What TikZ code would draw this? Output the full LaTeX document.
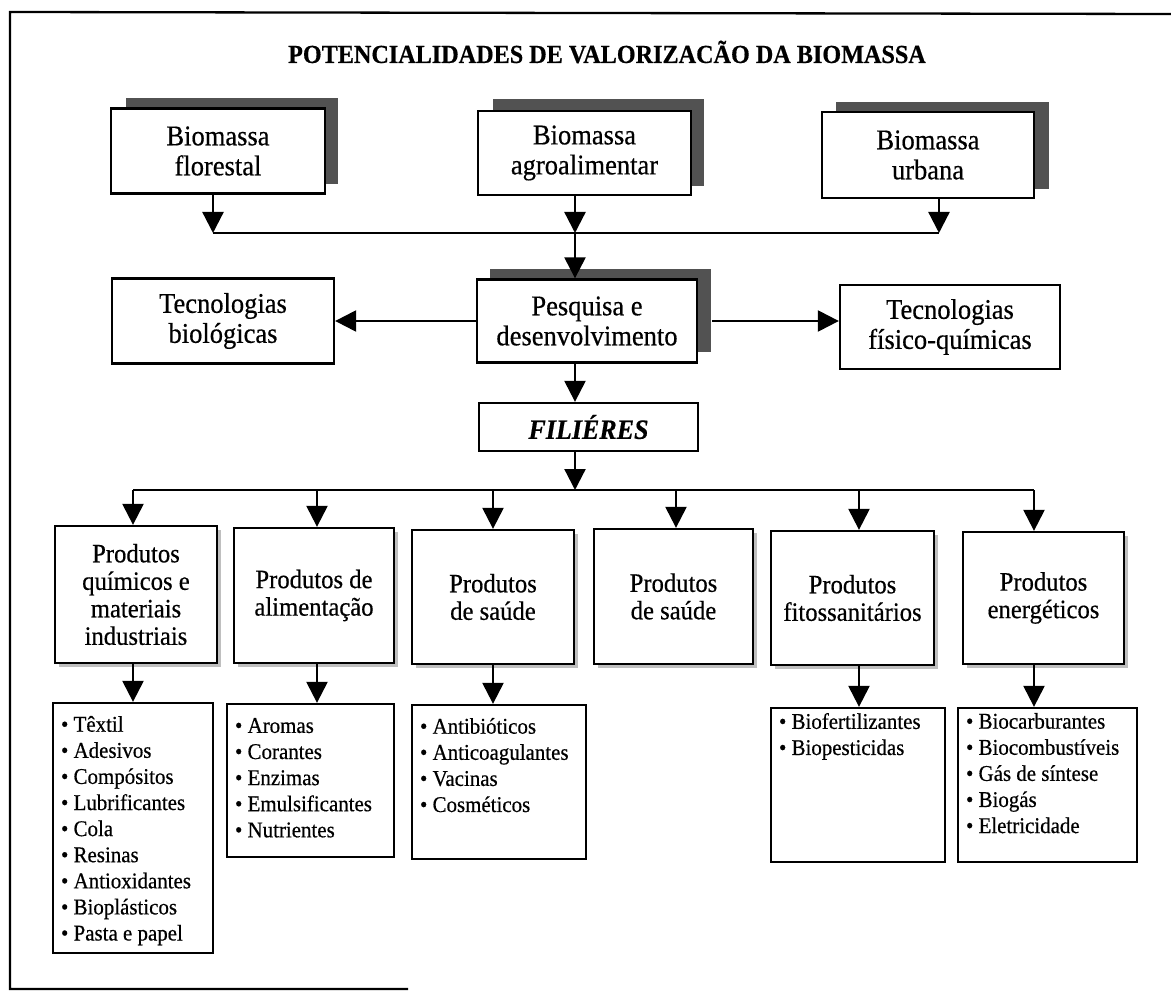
\documentclass[tikz,border=0pt]{standalone}
\usepackage{fontspec}
\setmainfont{Liberation Serif}[FakeStretch=0.93,FakeBold=0.5]
\usetikzlibrary{arrows.meta,calc}

\begin{document}
\begin{tikzpicture}[x=1pt,y=-1pt,
  box/.style={draw=black, line width=2.3pt, fill=white, align=center, inner sep=0pt},
  sz/.style 2 args={minimum width=#1pt, minimum height=#2pt},
  bigtxt/.style={font=\fontsize{28.5}{30}\selectfont},
  prodtxt/.style={font=\fontsize{26.5}{27.5}\selectfont},
  listtxt/.style={font=\fontsize{22.5}{26.1}\selectfont, align=left, inner sep=0pt, anchor=north west},
  darkshadow/.style={fill=black!68},
  lightshadow/.style={fill=gray!50},
  arr/.style={line width=2.3pt, -{Triangle[length=21pt,width=21pt]}},
  link/.style={line width=2.3pt},
]
\useasboundingbox (0,0) rectangle (1171,992);

% outer frame (open on the right)
\draw[line width=2.3pt] (1171,14) -- (10,12) -- (10,989) -- (408,989);

% title
\node[font=\fontsize{26}{28}\selectfont\bfseries] (title) at (607,52)
  {POTENCIALIDADES DE VALORIZACÃO DA BIOMASSA};

% shadows of the source boxes and of the R&D box
\fill[darkshadow] (126,98) rectangle (338,184);
\fill[darkshadow] (493,99) rectangle (704,186);
\fill[darkshadow] (836,102) rectangle (1049,189);
\fill[darkshadow] (490,269) rectangle (711,352);

% source boxes
\node[box, bigtxt, sz={214}{85}] (bf) at (218,151) {Biomassa\\florestal};
\node[box, bigtxt, sz={213}{84}] (ba) at (584.5,153) {Biomassa\\agroalimentar};
\node[box, bigtxt, sz={212}{86}] (bu) at (928,155) {Biomassa\\urbana};

% middle row
\node[box, bigtxt, sz={220}{83}] (pd) at (587,321) {Pesquisa e\\desenvolvimento};
\node[box, bigtxt, sz={222}{85}] (tb) at (223,321) {Tecnologias\\biológicas};
\node[box, bigtxt, sz={220}{84}] (tf) at (950,327) {Tecnologias\\físico-químicas};
\node[box, font=\fontsize{28}{30}\selectfont\bfseries\itshape, sz={219}{48}] (fi) at (588.5,427) {FILIÉRES};

% shadows of the product boxes
\fill[lightshadow] (59,530) rectangle (221,667);
\fill[lightshadow] (238,532) rectangle (398,667);
\fill[lightshadow] (416,534) rectangle (578,668);
\fill[lightshadow] (598,533) rectangle (757,668);
\fill[lightshadow] (775,535) rectangle (938,669);
\fill[lightshadow] (967,536) rectangle (1128,668);

% product boxes
\node[box, prodtxt, sz={162}{137}] (p1) at (136,594.5) {Produtos\\químicos e\\materiais\\industriais};
\node[box, prodtxt, sz={160}{135}] (p2) at (314,595.5) {Produtos de\\alimentação};
\node[box, prodtxt, sz={162}{134}] (p3) at (493,597) {Produtos\\de saúde};
\node[box, prodtxt, sz={159}{135}] (p4) at (673.5,596.5) {Produtos\\de saúde};
\node[box, prodtxt, sz={163}{134}] (p5) at (852.5,598) {Produtos\\fitossanitários};
\node[box, prodtxt, sz={161}{132}] (p6) at (1043.5,598) {Produtos\\energéticos};

% list boxes
\node[box, sz={160}{250}] (l1) at (133,828) {};
\node[box, sz={167}{153}] (l2) at (310.5,780.5) {};
\node[box, sz={174}{154}] (l3) at (499,782) {};
\node[box, sz={174}{154}] (l5) at (858,785) {};
\node[box, sz={179}{154}] (l6) at (1047.5,785) {};

\node[listtxt] (l1t) at ($(l1.north west)+(9,14)$)
  {• Têxtil\\• Adesivos\\• Compósitos\\• Lubrificantes\\• Cola\\• Resinas\\• Antioxidantes\\• Bioplásticos\\• Pasta e papel};
\node[listtxt] (l2t) at ($(l2.north west)+(9,15)$)
  {• Aromas\\• Corantes\\• Enzimas\\• Emulsificantes\\• Nutrientes};
\node[listtxt] (l3t) at ($(l3.north west)+(9,14)$)
  {• Antibióticos\\• Anticoagulantes\\• Vacinas\\• Cosméticos};
\node[listtxt] (l5t) at ($(l5.north west)+(9,6)$)
  {• Biofertilizantes\\• Biopesticidas};
\node[listtxt] (l6t) at ($(l6.north west)+(9,6)$)
  {• Biocarburantes\\• Biocombustíveis\\• Gás de síntese\\• Biogás\\• Eletricidade};

% merging the three sources
\coordinate (m1) at (213,233);
\coordinate (m2) at (575,233);
\coordinate (m3) at (939,233);
\draw[link] (m1) -- (m3);
\draw[arr] (bf.south -| m1) -- (m1);
\draw[arr] (ba.south -| m2) -- (m2);
\draw[arr] (bu.south -| m3) -- (m3);
\draw[arr] (m2) -- (pd.north -| m2);

% R&D to technologies and filières
\draw[arr] (pd.west) -- (tb.east |- pd.west);
\draw[arr] ([xshift=14pt]pd.east) -- (tf.west |- pd.east);
\draw[arr] (pd.south -| m2) -- (fi.north -| m2);

% distribution to the product families
\coordinate (dc) at (575,490);
\coordinate (d1) at (133,490);
\coordinate (d2) at (317,490);
\coordinate (d3) at (493,490);
\coordinate (d4) at (676,490);
\coordinate (d5) at (859,490);
\coordinate (d6) at (1034,490);
\draw[arr] (fi.south -| dc) -- (dc);
\draw[link] (d1) -- (d6);
\draw[arr] (d1) -- (p1.north -| d1);
\draw[arr] (d2) -- (p2.north -| d2);
\draw[arr] (d3) -- (p3.north -| d3);
\draw[arr] (d4) -- (p4.north -| d4);
\draw[arr] (d5) -- (p5.north -| d5);
\draw[arr] (d6) -- (p6.north -| d6);

% product families to their lists
\draw[arr] (p1.south -| d1) -- (l1.north -| d1);
\draw[arr] (p2.south -| d2) -- (l2.north -| d2);
\draw[arr] (p3.south -| d3) -- (l3.north -| d3);
\draw[arr] (p5.south -| d5) -- (l5.north -| d5);
\draw[arr] (p6.south -| d6) -- (l6.north -| d6);
\end{tikzpicture}
\end{document}
